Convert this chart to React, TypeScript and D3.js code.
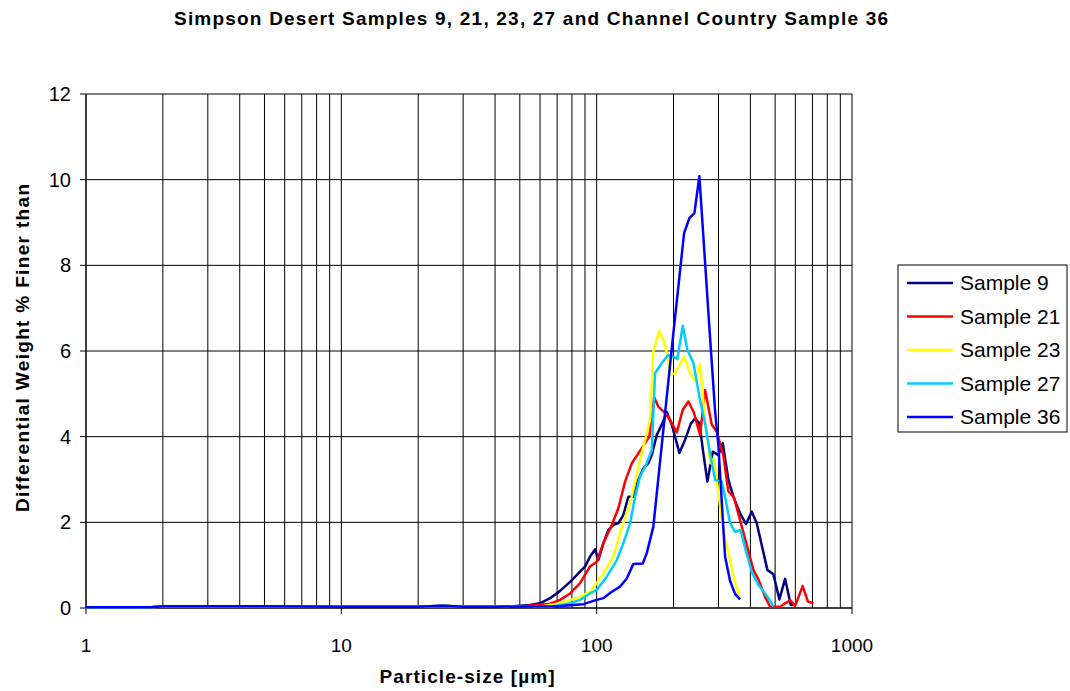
import React from "react";
import * as d3 from "d3";

const W = 1070;
const H = 691;

const title = "Simpson Desert Samples 9, 21, 23, 27 and Channel Country Sample 36";
const xLabel = "Particle-size [\u00b5m]";
const yLabel = "Differential Weight % Finer than";
const xTickLabels = [1, 10, 100, 1000];
const yTickValues = [0, 2, 4, 6, 8, 10, 12];

const seriesNames = ["Sample 9", "Sample 21", "Sample 23", "Sample 27", "Sample 36"];
const seriesColors = ["#000080", "#FF0000", "#FFFF00", "#00CCFF", "#0000FF"];

const flatPart: [number, number][] = [
  [1, 0.02], [1.8, 0.02], [2, 0.04], [5, 0.04], [10, 0.03], [20, 0.03],
  [25, 0.05], [30, 0.03], [40, 0.03],
];

const sample9: [number, number][] = [
  ...flatPart,
  [47, 0.04], [54.8, 0.07], [60, 0.11], [65.7, 0.23], [71.9, 0.4], [78.7, 0.61],
  [84.8, 0.81], [90.1, 0.97], [94.2, 1.2], [98.6, 1.37], [101.5, 1.12], [106.2, 1.51],
  [111.1, 1.82], [116.3, 1.94], [121.6, 1.98], [127.2, 2.17], [133.1, 2.6], [139.2, 2.6],
  [145.6, 2.99], [152.4, 3.26], [159.4, 3.38], [164.4, 3.57], [171.9, 4.04], [179.9, 4.28],
  [188.2, 4.57], [196.9, 4.28], [210.8, 3.62], [222, 3.93], [233.6, 4.3], [242.9, 4.43],
  [252.5, 4.31], [261.8, 3.61], [271.4, 2.95], [284.9, 3.65], [299.7, 3.57], [311.8, 3.85],
  [328, 2.99], [343.1, 2.6], [364.5, 2.21], [384.7, 1.96], [405, 2.25], [423.6, 1.98],
  [466.2, 0.89], [492.1, 0.79], [519.5, 0.2], [547, 0.68], [576, 0.07], [589.6, 0.07],
];

const sample21: [number, number][] = [
  ...flatPart,
  [50.1, 0.03], [54.8, 0.05], [65.7, 0.1], [71.9, 0.19], [78.7, 0.34], [86.1, 0.58],
  [94.2, 0.97], [100, 1.08], [106.2, 1.51], [114.6, 1.94], [121.6, 2.33], [129.2, 2.95],
  [137.3, 3.38], [145.6, 3.61], [154.7, 3.85], [160.8, 4.0], [168, 4.92], [174.4, 4.7],
  [185.3, 4.55], [193.9, 4.39], [206, 4.1], [217.4, 4.63], [228.7, 4.82], [240, 4.57],
  [254.1, 4.04], [265.8, 5.09], [282.4, 4.28], [295.4, 4.12], [313.5, 3.55], [328, 2.72],
  [345, 2.58], [411, 0.89], [429.8, 0.67], [456.6, 0.26], [477.7, 0.03], [522.8, 0.03],
  [547, 0.11], [574, 0.18], [598.8, 0.05], [640.7, 0.51], [672, 0.15], [706.3, 0.11],
];

const sample23: [number, number][] = [
  ...flatPart,
  [60, 0.03], [71.9, 0.11], [86.1, 0.26], [94.2, 0.38], [100, 0.58], [106.2, 0.81],
  [116.3, 1.2], [123.5, 1.75], [137.3, 2.6], [147.9, 3.46], [157.1, 4.08], [161.9, 4.39],
  [166.7, 5.99], [175.5, 6.47], [182.5, 6.26], [188.2, 5.95], [193.9, 5.44], [202.8, 5.48],
  [220, 5.87], [232.2, 5.48], [242.9, 5.3], [254.1, 5.7], [265.8, 4.39], [278.1, 3.38],
  [288.3, 3.5], [299.7, 2.68], [313.5, 1.8], [328, 1.28], [343.1, 0.75], [364.5, 0.2],
];

const sample27: [number, number][] = [
  ...flatPart,
  [65.7, 0.03], [78.7, 0.11], [86.1, 0.19], [94.2, 0.34], [100, 0.42], [109.5, 0.73],
  [119.9, 1.12], [127.2, 1.51], [135.2, 1.98], [141.4, 2.6], [147.9, 3.07], [157.1, 3.38],
  [164.4, 3.69], [169.3, 5.48], [179.9, 5.72], [190.9, 5.91], [199.7, 5.87], [207, 5.81],
  [217.4, 6.59], [226.6, 6.03], [239.2, 5.72], [252.5, 4.94], [265.8, 4.31], [278.1, 3.61],
  [290.9, 2.99], [309, 2.95], [318.3, 2.6], [333.1, 1.98], [348.4, 1.78], [366, 1.82],
  [384, 1.34], [405, 0.84], [430, 0.54], [456.6, 0.34], [477.7, 0.17], [492.1, 0.03],
];

const sample36: [number, number][] = [
  ...flatPart,
  [70, 0.04], [88.7, 0.09], [100, 0.19], [106.2, 0.23], [114.6, 0.38], [123.5, 0.5],
  [131.2, 0.69], [139.2, 1.03], [151.6, 1.04], [157.1, 1.28], [161.9, 1.59], [166.7, 1.9],
  [199.7, 6.42], [220, 8.75], [230.7, 9.1], [241.4, 9.22], [252.5, 10.08], [278.1, 6.3],
  [290.9, 4.6], [299.7, 3.8], [311, 2.2], [318.3, 1.2], [333.1, 0.63], [348.4, 0.33],
  [364.5, 0.2],
];

const seriesData = [sample9, sample21, sample23, sample27, sample36];

export default function App() {
  const left = 86, right = 852, top = 94, bottom = 608;
  const x = d3.scaleLog().domain([1, 1000]).range([left, right]);
  const y = d3.scaleLinear().domain([0, 12]).range([bottom, top]);
  const line = d3
    .line<[number, number]>()
    .x((d) => x(d[0]))
    .y((d) => y(d[1]));

  const font = "'Liberation Sans', Arial, Helvetica, sans-serif";
  const gridX = x.ticks();

  const legX = 898, legY = 265, legW = 169, legH = 167;
  const rowH = 33.5;

  return (
    <svg
      width={W}
      height={H}
      style={{ position: "absolute", left: 0, top: 0, background: "#fff" }}
      fontFamily={font}
    >
      <rect x={0} y={0} width={W} height={H} fill="#fff" />
      <text
        x={531}
        y={25}
        textAnchor="middle"
        fontWeight="bold"
        fontSize={19}
        textLength={714}
        lengthAdjust="spacing"
      >
        {title}
      </text>

      {/* vertical grid */}
      {gridX.map((v, i) => (
        <line key={"gx" + i} x1={x(v)} x2={x(v)} y1={top} y2={bottom} stroke="#000" strokeWidth={1} />
      ))}
      {/* horizontal grid */}
      {yTickValues.map((v) => (
        <line key={"gy" + v} x1={left} x2={right} y1={y(v)} y2={y(v)} stroke="#000" strokeWidth={1} />
      ))}
      {/* axes */}
      <line x1={left} x2={left} y1={top} y2={bottom} stroke="#000" strokeWidth={1} />
      <line x1={left} x2={right} y1={bottom} y2={bottom} stroke="#000" strokeWidth={1} />
      {yTickValues.map((v) => (
        <line key={"ty" + v} x1={left - 6} x2={left} y1={y(v)} y2={y(v)} stroke="#000" />
      ))}
      {xTickLabels.map((v) => (
        <line key={"tx" + v} x1={x(v)} x2={x(v)} y1={bottom} y2={bottom + 6} stroke="#000" />
      ))}

      {yTickValues.map((v) => (
        <text key={"ly" + v} x={71} y={y(v) + 7} textAnchor="end" fontSize={20}>
          {v}
        </text>
      ))}
      {xTickLabels.map((v) => (
        <text key={"lx" + v} x={x(v)} y={652} textAnchor="middle" fontSize={19}>
          {v}
        </text>
      ))}

      {seriesData.map((d, i) => (
        <path
          key={"s" + i}
          d={line(d) || ""}
          fill="none"
          stroke={seriesColors[i]}
          strokeWidth={2.5}
          strokeLinejoin="round"
        />
      ))}

      <text
        x={467}
        y={683}
        textAnchor="middle"
        fontWeight="bold"
        fontSize={19}
        textLength={175}
        lengthAdjust="spacing"
      >
        {xLabel}
      </text>
      <text
        transform={`translate(29, 348) rotate(-90)`}
        textAnchor="middle"
        fontWeight="bold"
        fontSize={19}
        textLength={328}
        lengthAdjust="spacing"
      >
        {yLabel}
      </text>

      {/* legend */}
      <rect x={legX} y={legY} width={legW} height={legH} fill="#fff" stroke="#000" strokeWidth={1} />
      {seriesNames.map((n, i) => {
        const cy = legY + 18 + i * rowH;
        return (
          <g key={"lg" + i}>
            <line x1={907} x2={953} y1={cy} y2={cy} stroke={seriesColors[i]} strokeWidth={2.5} />
            <text x={960} y={cy + 7} fontSize={21}>
              {n}
            </text>
          </g>
        );
      })}
    </svg>
  );
}
